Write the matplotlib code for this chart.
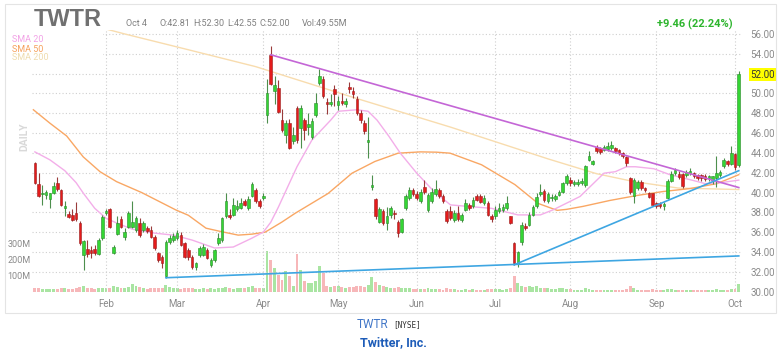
import matplotlib
matplotlib.use("Agg")
import matplotlib.pyplot as plt
from matplotlib.patches import Rectangle
import matplotlib.transforms as mtransforms

# ---------------- data (TWTR daily, 2022-01-04 .. 2022-10-04, trading-day index) ----------------
opens = [42.96, 40.87, 39.85, 39.76, 39.3, 39.93, 40.94, 40.27, 38.4, 37.84,
         37.74, 37.9, 36.97, 33.7, 34.28, 34.2, 34.3, 33.8, 35.4, 37.9,
         38.32, 33.9, 35.82, 37.3, 35.55, 36.57, 36.57, 36.23, 36.9, 36.2,
         36.4, 36.2, 35.55, 33.87, 33.5, 31.6, 35.05, 35.2, 35.4, 35.7,
         34.9, 34.2, 33.5, 32.45, 33.7, 33.7, 34.2, 32.7, 33.2, 34.9,
         35.2, 37.6, 37.75, 37.75, 38.3, 38.4, 39.1, 38.4, 39.6, 40.3,
         39.1, 39.4, 47.85, 53.9, 50.2, 50.5, 47.3, 45.8, 47.0, 45.2,
         48.5, 46.5, 47.3, 46.6, 45.65, 47.85, 51.1, 51.5, 49.1, 48.96,
         50.4, 48.8, 49.2, 48.95, 50.6, 50.2, 49.4, 48.0, 47.0, 45.05,
         40.6, 39.3, 37.07, 38.1, 36.9, 37.75, 37.9, 37.07, 36.05, 38.4,
         39.4, 40.3, 39.9, 39.1, 40.6, 38.2, 39.1, 39.8, 40.3, 39.6,
         38.1, 38.1, 37.2, 37.9, 37.2, 38.25, 38.75, 38.6, 39.66, 39.66,
         38.9, 38.9, 37.64, 37.58, 38.1, 38.25, 38.42, 37.6, 34.9, 32.8,
         35.05, 36.6, 36.74, 37.74, 38.6, 39.8, 40.2, 39.1, 39.4, 39.33,
         39.76, 40.1, 40.94, 41.28, 40.87, 40.9, 40.94, 40.77, 43.3, 42.9,
         44.58, 44.48, 44.31, 44.38, 44.48, 44.48, 44.31, 43.97, 43.57, 41.45,
         39.6, 40.44, 41.11, 40.44, 40.0, 39.93, 38.92, 38.85, 38.59, 39.43,
         41.21, 41.95, 41.89, 41.89, 41.78, 41.95, 41.95, 41.78, 41.78, 41.7,
         41.45, 41.28, 41.45, 41.78, 42.63, 43.13, 42.9, 43.87, 42.81]
highs = [43.1, 41.95, 40.8, 40.3, 40.0, 41.1, 41.6, 40.4, 39.1, 38.1,
         38.3, 39.0, 37.1, 35.2, 35.2, 34.6, 34.7, 35.4, 37.7, 38.3,
         38.4, 34.7, 37.6, 37.6, 36.4, 38.1, 39.1, 37.6, 37.4, 37.1,
         36.6, 36.6, 35.7, 34.0, 33.7, 35.2, 35.7, 35.9, 36.2, 36.0,
         35.0, 34.4, 33.7, 33.0, 34.6, 34.8, 34.4, 33.4, 34.3, 35.9,
         37.5, 40.0, 38.3, 39.4, 39.2, 39.4, 39.3, 39.6, 41.1, 40.5,
         39.3, 40.0, 51.5, 54.75, 51.8, 51.4, 48.4, 47.3, 47.4, 46.6,
         48.7, 48.8, 47.5, 48.0, 47.5, 50.0, 52.5, 51.8, 49.5, 49.9,
         50.9, 49.7, 50.0, 49.5, 51.2, 50.6, 49.7, 48.3, 47.3, 47.6,
         41.8, 39.4, 38.5, 38.3, 38.5, 38.6, 38.2, 37.2, 37.4, 39.8,
         40.6, 40.5, 40.2, 40.4, 41.3, 40.0, 40.5, 41.3, 40.5, 39.8,
         38.3, 38.6, 38.2, 38.6, 37.9, 39.3, 38.9, 39.5, 39.9, 39.8,
         39.7, 39.1, 37.8, 38.6, 38.9, 38.8, 39.6, 37.6, 35.0, 34.1,
         37.0, 36.9, 38.0, 38.7, 40.0, 40.9, 40.4, 40.1, 39.8, 39.8,
         40.3, 41.1, 41.9, 41.6, 41.3, 41.4, 41.5, 42.8, 44.14, 43.3,
         44.8, 44.6, 44.8, 45.1, 45.2, 44.6, 44.4, 44.1, 43.7, 41.6,
         41.5, 41.3, 41.3, 40.6, 40.1, 40.0, 39.0, 39.0, 39.0, 41.4,
         42.2, 42.5, 42.2, 42.0, 42.3, 42.5, 42.1, 41.9, 41.9, 41.9,
         41.8, 41.7, 43.64, 42.3, 43.5, 43.3, 44.65, 44.0, 52.30]
lows = [40.85, 39.5, 38.75, 39.3, 38.4, 39.8, 40.2, 38.6, 37.6, 37.4,
        37.1, 37.1, 34.7, 32.2, 33.5, 33.4, 33.7, 33.7, 35.2, 37.7,
        36.4, 33.8, 35.7, 36.4, 35.2, 36.4, 36.4, 36.0, 35.55, 36.0,
        35.9, 35.4, 34.2, 33.0, 32.4, 31.4, 34.8, 35.0, 35.2, 34.6,
        33.4, 33.2, 32.3, 32.2, 33.5, 33.6, 33.3, 32.5, 33.0, 34.7,
        35.0, 37.4, 37.3, 37.6, 38.1, 38.3, 38.6, 38.2, 39.5, 38.9,
        38.4, 39.2, 47.0, 50.9, 48.9, 48.0, 46.1, 45.0, 44.4, 44.9,
        45.0, 44.5, 45.3, 45.8, 45.4, 47.6, 50.8, 49.5, 47.9, 48.7,
        48.7, 48.3, 48.8, 48.6, 50.0, 49.5, 47.8, 47.0, 45.9, 43.5,
        40.3, 37.3, 36.9, 36.7, 36.2, 37.4, 37.3, 35.5, 35.9, 38.2,
        39.2, 39.6, 39.2, 38.9, 39.9, 38.0, 38.9, 39.6, 39.4, 38.9,
        36.9, 37.2, 37.0, 37.1, 37.0, 38.1, 38.2, 38.4, 39.1, 38.9,
        38.7, 37.6, 37.0, 37.3, 37.9, 38.0, 38.2, 36.8, 32.7, 32.5,
        34.7, 36.2, 36.6, 37.6, 38.4, 39.6, 39.0, 38.9, 39.1, 39.1,
        39.6, 40.0, 40.8, 40.7, 40.7, 40.7, 40.8, 40.6, 43.2, 42.8,
        44.0, 43.9, 44.2, 44.2, 44.3, 44.0, 43.8, 43.5, 42.7, 39.9,
        38.9, 40.3, 40.3, 40.1, 39.4, 38.6, 38.4, 38.4, 38.2, 39.3,
        41.1, 41.8, 41.4, 40.5, 41.6, 41.8, 41.5, 41.3, 41.2, 41.2,
        41.2, 40.9, 40.6, 41.6, 42.5, 42.7, 42.8, 42.3, 42.55]
closes = [40.94, 39.6, 39.95, 40.1, 39.93, 40.67, 40.34, 38.75, 38.6, 37.57,
          37.24, 37.3, 34.88, 35.15, 33.8, 33.9, 33.9, 35.2, 37.57, 38.17,
          36.57, 34.48, 36.97, 36.57, 36.06, 37.9, 37.07, 37.4, 35.72, 36.9,
          36.1, 35.55, 34.4, 33.2, 32.9, 35.05, 35.4, 35.6, 35.9, 34.7,
          33.5, 33.5, 32.5, 32.85, 34.4, 34.5, 33.4, 33.2, 34.2, 35.4,
          37.4, 39.1, 37.5, 38.75, 38.6, 38.9, 38.75, 39.3, 40.9, 39.1,
          38.65, 39.6, 50.0, 51.0, 50.8, 48.1, 46.3, 47.0, 44.5, 45.8,
          45.3, 48.5, 46.3, 46.9, 47.2, 49.0, 51.8, 49.7, 48.9, 49.09,
          49.9, 49.2, 49.0, 49.2, 50.4, 49.9, 48.0, 47.3, 46.2, 45.32,
          40.8, 37.6, 38.3, 36.9, 37.6, 38.4, 37.85, 35.9, 37.3, 39.6,
          40.3, 39.8, 39.4, 40.1, 40.1, 39.7, 40.1, 40.4, 39.6, 39.1,
          37.1, 37.4, 37.9, 37.3, 37.7, 38.9, 38.4, 39.25, 39.26, 39.09,
          39.4, 37.75, 37.31, 38.25, 38.42, 38.52, 38.92, 36.9, 32.86, 34.0,
          36.74, 36.4, 37.74, 38.5, 39.5, 40.1, 39.2, 39.9, 39.5, 39.6,
          40.1, 40.94, 41.62, 40.94, 41.11, 41.1, 41.21, 42.63, 43.64, 43.13,
          44.14, 44.04, 44.58, 44.71, 44.81, 44.14, 43.97, 43.64, 42.96, 40.1,
          41.28, 41.11, 40.44, 40.27, 39.53, 38.75, 38.59, 38.59, 38.85, 41.21,
          41.89, 42.29, 41.55, 40.61, 42.02, 42.22, 41.62, 41.45, 41.45, 41.4,
          41.62, 41.62, 41.95, 42.12, 43.3, 42.9, 43.97, 42.54, 52.00]
volumes_m = [22, 25, 20, 18, 19, 20, 17, 24, 22, 20, 19, 22, 30, 35, 28, 22, 20, 24, 28,
             26, 28, 38, 30, 25, 22, 30, 48, 35, 30, 22, 20, 24, 22, 25, 28, 45, 30, 25,
             22, 20, 25, 22, 24, 20, 18, 22, 20, 24, 20, 22, 28, 30, 22, 20, 22, 24, 22, 30, 35, 25, 22, 26,
             254, 202, 150, 108, 77, 129, 98, 35, 240, 140, 67, 56, 56, 67, 160, 119, 35, 29, 40, 38,
             30, 28, 32, 30, 36, 40, 34, 45, 95, 60,
             45, 35, 30, 26, 24, 30, 26, 28, 24, 20, 18, 20, 16, 22, 20, 18, 16, 15, 22, 18,
             16, 14, 15, 17, 14, 16, 15, 13, 14, 20, 16,
             18, 16, 15, 17, 22, 100, 58, 40, 30, 35, 30, 35, 25, 22, 24, 20, 18, 22, 25, 20,
             16, 14, 15, 13, 22, 18, 14, 15, 12, 13, 14, 12, 13, 12, 14, 16, 35, 24, 15, 12, 13, 14, 18,
             14, 12, 13, 20, 16, 12, 11, 14, 13, 12, 11, 10, 12, 11, 10, 12, 18, 13, 15, 12, 16, 18, 49.55]

# moving averages (trading-day index, value)
sma20_idx = [0, 4, 8, 11, 13, 16, 19, 22, 26, 32, 37, 42, 48, 53, 58, 61, 63, 65, 70, 74, 79, 81,
             86, 89, 91.4, 94.5, 97.6, 102, 106.6, 111, 115.6, 122, 129, 135, 138.4, 145.6, 152,
             155, 158, 160.4, 165.3, 169.6, 176, 179, 183.3, 188]
sma20_val = [44.1, 43.3, 42.2, 41.0, 39.9, 38.4, 37.4, 36.9, 36.3, 35.9, 35.7, 35.2, 34.4, 34.5,
             35.4, 36.0, 37.0, 38.5, 42.6, 45.3, 47.3, 48.2, 48.35, 48.2, 47.3, 45.7, 43.97, 41.95,
             40.1, 38.75, 38.6, 38.4, 37.74, 37.74, 38.25, 39.6, 41.95, 42.1, 42.6, 42.6, 42.4,
             41.8, 41.2, 40.9, 41.0, 41.25]
sma50_idx = [-0.4, 4, 8.5, 12.9, 17.4, 21.8, 28.5, 37.6, 41, 45.7, 49.7, 54.3, 58, 61.5, 65.9,
             69.5, 78.3, 84.7, 90.8, 97, 103, 107.3, 110.9, 119.3, 128.2, 134.4, 139.5, 142,
             146.4, 153.6, 160.8, 167.8, 175, 182.2, 188]
sma50_val = [48.35, 47.0, 45.7, 43.6, 42.1, 41.1, 40.0, 38.25, 37.7, 36.4, 36.06, 35.7, 35.8,
             36.0, 37.0, 37.9, 39.9, 41.95, 43.13, 43.97, 44.1, 44.07, 43.97, 42.8, 40.8, 38.9,
             38.2, 38.3, 38.6, 39.2, 39.7, 40.1, 40.4, 40.9, 41.8]
sma200_idx = [15, 24, 40, 59, 85, 111, 137, 150, 160, 171.8, 188]
sma200_val = [56.9, 56.0, 54.5, 52.7, 49.6, 46.6, 43.4, 41.9, 41.1, 40.45, 40.3]

# trend lines (index, price)
resist_idx = [63, 188]
resist_val = [53.9, 40.5]
support1_idx = [35, 188]
support1_val = [31.4, 33.6]
support2_idx = [128, 188]
support2_val = [32.7, 42.2]

month_idx = [19, 38, 61, 81, 102, 123, 143, 166, 187]
month_lbl = ["Feb", "Mar", "Apr", "May", "Jun", "Jul", "Aug", "Sep", "Oct"]
price_ticks = [30, 32, 34, 36, 38, 40, 42, 44, 46, 48, 50, 52, 54, 56]
vol_ticks = [100, 200, 300]

# ---------------- figure ----------------
W, H = 780, 351
fig = plt.figure(figsize=(W / 100, H / 100), dpi=100)
fig.patch.set_facecolor("white")

def fx(x):
    return x / W

def fy(y):
    return 1 - y / H

L, R, T, B = 32, 742, 30, 292
pos = [fx(L), fy(B), (R - L) / W, (B - T) / H]
XMIN, XMAX = -0.77, 188.86

GRID = dict(color="#cfcfcf", linestyle=(0, (1, 2)), linewidth=0.8)
LBL = "#8a8a8a"
FONT = ["Roboto", "DejaVu Sans"]

# volume axes (behind)
axv = fig.add_axes(pos)
axv.set_xlim(XMIN, XMAX)
axv.set_ylim(0, 1637)
n = len(closes)
xs = list(range(n))
vcol = ["#a9e5a2" if closes[i] >= opens[i] else "#f7b7b9" for i in range(n)]
axv.bar(xs, volumes_m, width=0.78, color=vcol, linewidth=0, zorder=2)
for s in axv.spines.values():
    s.set_visible(False)
axv.set_xticks([])
axv.set_yticks(vol_ticks, [f"{v}M" for v in vol_ticks])
axv.tick_params(axis="y", length=0, pad=1, labelsize=6.5, labelcolor=LBL)
for t in axv.get_yticklabels():
    t.set_fontfamily(FONT)

# price axes
ax = fig.add_axes(pos)
ax.patch.set_alpha(0)
ax.set_xlim(XMIN, XMAX)
ax.set_ylim(29.96, 56.4)
for s in ax.spines.values():
    s.set_visible(False)
ax.set_axisbelow(True)
ax.grid(True, **GRID)
ax.set_xticks(month_idx, month_lbl)
ax.set_yticks(price_ticks, [f"{p:.2f}" for p in price_ticks])
ax.yaxis.tick_right()
ax.tick_params(axis="both", length=0, labelsize=7, labelcolor=LBL)
ax.tick_params(axis="y", pad=6)
ax.tick_params(axis="x", pad=5)
for t in ax.get_xticklabels() + ax.get_yticklabels():
    t.set_fontfamily(FONT)
for t in ax.get_yticklabels():
    if t.get_text() == "52.00":
        t.set_color("#333333")
        t.set_bbox(dict(facecolor="#ffff00", edgecolor="none", pad=1.0))

# hide grid behind legend block
ax.add_patch(Rectangle((0, 0.878), 0.1, 0.13, transform=ax.transAxes,
                       facecolor="white", edgecolor="none", zorder=1.2, clip_on=False))

# moving averages
ax.plot(sma200_idx, sma200_val, color="#f8dcae", lw=1.0, zorder=2)
ax.plot(sma50_idx, sma50_val, color="#f9a764", lw=1.0, zorder=2)
ax.plot(sma20_idx, sma20_val, color="#f3aee9", lw=1.0, zorder=2)

# candles
up_body, up_edge, up_wick = "#34d634", "#2a8a2a", "#4d8f4d"
dn_body, dn_edge, dn_wick = "#e41b1b", "#9a1f1f", "#9a3b3b"
for i in range(n):
    o, h, l, c = opens[i], highs[i], lows[i], closes[i]
    up = c >= o
    ax.vlines(i, l, h, colors=up_wick if up else dn_wick, lw=0.8, zorder=3)
    lo, hi = min(o, c), max(o, c)
    ax.bar(i, max(hi - lo, 0.06), bottom=lo, width=0.7,
           color=up_body if up else dn_body,
           edgecolor=up_edge if up else dn_edge, linewidth=0.4, zorder=4)

# trend lines
ax.plot(resist_idx, resist_val, color="#c466d6", lw=1.2, zorder=5)
ax.plot(support1_idx, support1_val, color="#3ea6e2", lw=1.2, zorder=5)
ax.plot(support2_idx, support2_val, color="#3ea6e2", lw=1.2, zorder=5)

# frame
fig.patches.append(Rectangle((fx(5), fy(313)), (776 - 5) / W, (313 - 4) / H,
                             transform=fig.transFigure, fill=False,
                             edgecolor="#e4e4e4", lw=0.8))

# header
fig.text(fx(34), fy(20), "TWTR", fontsize=17, fontweight="bold", color="#707070",
         family=["Liberation Sans", "DejaVu Sans"], va="center", ha="left")
hdr = dict(fontsize=6.5, color="#808080", va="center", ha="left", family=FONT)
fig.text(fx(126), fy(24), "Oct 4", **hdr)
fig.text(fx(159), fy(24), "O:42.81", **hdr)
fig.text(fx(193), fy(24), "H:52.30", **hdr)
fig.text(fx(227), fy(24), "L:42.55", **hdr)
fig.text(fx(260), fy(24), "C:52.00", **hdr)
fig.text(fx(302), fy(24), "Vol:49.55M", **hdr)
fig.text(fx(733), fy(24), "+9.46 (22.24%)", fontsize=8, fontweight="bold",
         color="#2db52d", va="center", ha="right", family=FONT)

# SMA legend
for yy, txt, col in [(40, "SMA 20", "#f2a2e6"), (49, "SMA 50", "#f6a15c"), (58, "SMA 200", "#efdcae")]:
    fig.text(fx(12), fy(yy), txt, fontsize=6.5, color=col, va="center", ha="left", family=FONT)

fig.text(fx(24), fy(137), "DAILY", fontsize=7.5, fontweight="bold", color="#d9d9d9",
         rotation=90, va="center", ha="center", family=FONT)

# footer
fig.text(fx(357), fy(325), "TWTR", fontsize=8.5, color="#4277c8", va="center", ha="left", family=FONT)
fig.text(fx(393), fy(325), "[NYSE]", fontsize=5.5, color="#333333", va="center", ha="left",
         family=["DejaVu Sans Mono", "DejaVu Sans"])
fig.text(fx(393), fy(343), "Twitter, Inc.", fontsize=9, fontweight="bold", color="#1d5cb8",
         va="center", ha="center", family=FONT)

fig.savefig("out.png", dpi=100)
